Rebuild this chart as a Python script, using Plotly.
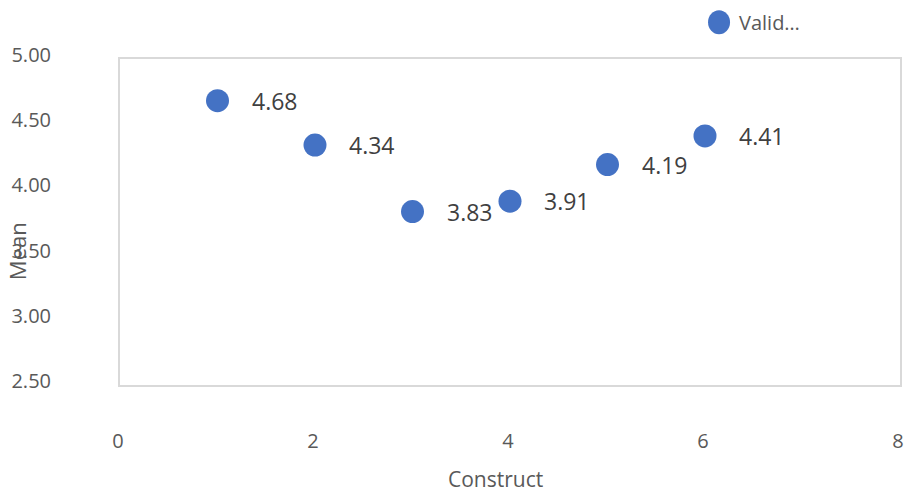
import plotly.graph_objects as go

# Mean score per construct
constructs = [1, 2, 3, 4, 5, 6]
means = [4.68, 4.34, 3.83, 3.91, 4.19, 4.41]
series_name = "Valid…"

x_ticks = [0, 2, 4, 6, 8]
y_ticks = [2.5, 3.0, 3.5, 4.0, 4.5, 5.0]

blue = "#4472C4"
label_grey = "#404040"
tick_grey = "#595959"
frame_grey = "#D9D9D9"
font_family = "Open Sans"

fig = go.Figure()
fig.add_trace(go.Scatter(
    x=constructs,
    y=means,
    mode="markers",
    name=series_name,
    marker=dict(color=blue, size=23, symbol="circle"),
    cliponaxis=False,
    showlegend=False,
))

# value labels to the right of each point
for xv, yv in zip(constructs, means):
    fig.add_annotation(
        x=xv, y=yv, text=f"{yv:.2f}", showarrow=False,
        xanchor="left", yanchor="middle", xshift=32,
        font=dict(family=font_family, size=23, color=label_grey),
    )

# legend entry: series glyph plus its name, above the plot frame
legend_x, legend_y = 0.768, 1.113
fig.add_shape(
    type="circle", xref="paper", yref="paper",
    xsizemode="pixel", ysizemode="pixel",
    xanchor=legend_x, yanchor=legend_y,
    x0=-11, x1=11, y0=-12, y1=12,
    fillcolor=blue, line=dict(width=0),
)
fig.add_annotation(
    xref="paper", yref="paper", x=legend_x, y=legend_y, xshift=18,
    text=series_name, showarrow=False, xanchor="left", yanchor="middle",
    font=dict(family=font_family, size=20, color=tick_grey),
)

# axis titles
fig.add_annotation(
    xref="paper", yref="paper", x=0.482, y=-0.288, text="Construct",
    showarrow=False, xanchor="center", yanchor="middle",
    font=dict(family=font_family, size=21, color=tick_grey),
)
fig.add_annotation(
    xref="paper", yref="paper", x=-0.131, y=0.41, text="Mean",
    showarrow=False, xanchor="center", yanchor="middle", textangle=-90,
    font=dict(family=font_family, size=22, color=tick_grey),
)

fig.update_layout(
    width=905, height=493,
    margin=dict(l=120, r=1, t=59, b=108),
    paper_bgcolor="white", plot_bgcolor="white",
    font=dict(family=font_family, color=tick_grey),
)

fig.update_xaxes(
    range=[0, 8], tickvals=x_ticks, ticktext=[str(v) for v in x_ticks],
    showgrid=False, zeroline=False,
    showline=True, mirror=True, linecolor=frame_grey, linewidth=2,
    ticks="", ticklabelstandoff=37, ticklabelshift=-2,
    ticklabeloverflow="allow",
    tickfont=dict(family=font_family, size=20, color=tick_grey),
)
fig.update_yaxes(
    range=[2.5, 5.0], tickvals=y_ticks, ticktext=[f"{v:.2f}" for v in y_ticks],
    showgrid=False, zeroline=False,
    showline=True, mirror=True, linecolor=frame_grey, linewidth=2,
    ticks="", ticklabelstandoff=63, ticklabelshift=-4,
    tickfont=dict(family=font_family, size=20, color=tick_grey),
)

fig.write_html("out.html")
